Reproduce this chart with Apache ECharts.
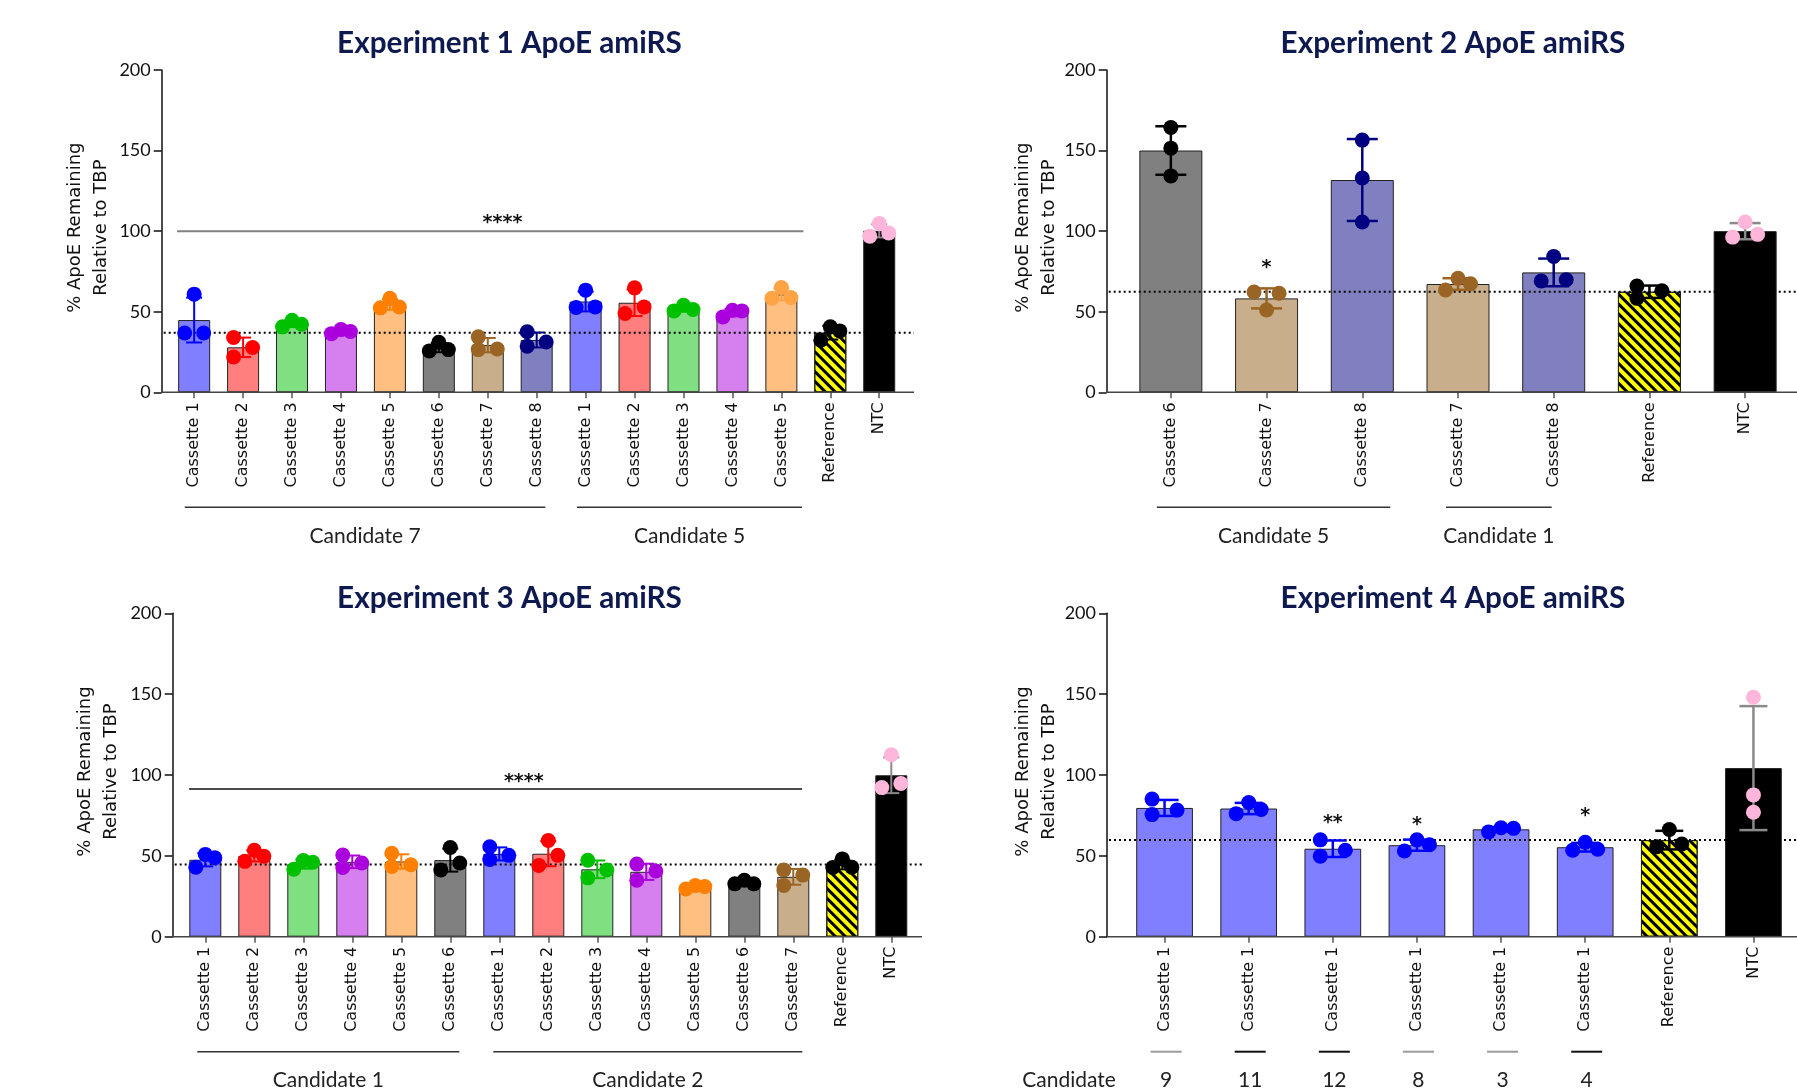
<!DOCTYPE html>
<html><head><meta charset="utf-8">
<script src="https://cdn.jsdelivr.net/npm/echarts@6/dist/echarts.min.js"></script>
<style>html,body{margin:0;padding:0;background:#fff}#c{width:1797px;height:1092px}</style>
</head><body><div id="c"></div>
<script>
// ================= DATA =================
const yTicks = [0, 50, 100, 150, 200];
const yAxisTitle = '% ApoE Remaining\nRelative to TBP';

const exp1Title = 'Experiment 1 ApoE amiRS';
const exp1Labels = ['Cassette 1','Cassette 2','Cassette 3','Cassette 4','Cassette 5','Cassette 6','Cassette 7','Cassette 8','Cassette 1','Cassette 2','Cassette 3','Cassette 4','Cassette 5','Reference','NTC'];
const exp1Points = [[36.8,60.9,36.8],[34.0,21.9,27.8],[40.6,44.7,42.2],[36.4,38.9,37.7],[52.4,58.4,52.9],[25.7,31.0,26.5],[34.4,26.5,26.9],[37.6,28.6,31.2],[52.6,63.4,53.0],[48.9,64.8,53.0],[50.5,54.0,51.4],[46.8,50.9,50.5],[58.4,65.0,58.8],[32.3,40.6,38.1],[96.9,104.8,98.9]];
const exp1Groups = [{label:'Candidate 7', from:0, to:7},{label:'Candidate 5', from:8, to:12}];
const exp1Sig = [{from:-0.35, to:12.45, value:100, label:'****', at:6.3, starValue:108.2}];
const exp1Stars = [];

const exp2Title = 'Experiment 2 ApoE amiRS';
const exp2Labels = ['Cassette 6','Cassette 7','Cassette 8','Cassette 7','Cassette 8','Reference','NTC'];
const exp2Points = [[164.3,151.5,134.3],[62.2,51.1,61.5],[156.5,133.0,105.7],[63.5,70.7,67.4],[69.1,84.3,69.8],[65.9,58.3,63.0],[96.3,105.7,98.0]];
const exp2Groups = [{label:'Candidate 5', from:0, to:2},{label:'Candidate 1', from:3, to:4}];
const exp2Sig = [];
const exp2Stars = [{at:1, value:80, label:'*'}];

const exp3Title = 'Experiment 3 ApoE amiRS';
const exp3Labels = ['Cassette 1','Cassette 2','Cassette 3','Cassette 4','Cassette 5','Cassette 6','Cassette 1','Cassette 2','Cassette 3','Cassette 4','Cassette 5','Cassette 6','Cassette 7','Reference','NTC'];
const exp3Points = [[43.0,50.9,48.8],[46.6,53.5,49.8],[41.7,47.1,46.0],[50.5,42.8,45.6],[51.6,43.4,44.5],[41.3,55.2,45.6],[55.6,47.7,50.3],[44.1,59.5,50.3],[47.3,36.4,41.3],[44.9,34.9,40.6],[29.5,31.7,31.0],[32.7,34.9,32.7],[41.3,31.7,38.1],[42.8,48.1,43.0],[92.2,112.5,94.8]];
const exp3Groups = [{label:'Candidate 1', from:0, to:5},{label:'Candidate 2', from:6, to:12}];
const exp3Sig = [{from:-0.33, to:12.18, value:91.3, label:'****', at:6.5, starValue:98.7}];
const exp3Stars = [];

const exp4Title = 'Experiment 4 ApoE amiRS';
const exp4Labels = ['Cassette 1','Cassette 1','Cassette 1','Cassette 1','Cassette 1','Cassette 1','Reference','NTC'];
const exp4Points = [[85.1,75.5,78.3],[76.1,83.0,78.7],[59.9,49.8,53.5],[53.0,59.9,56.9],[64.8,67.4,67.0],[53.5,58.4,54.1],[55.6,66.3,57.3],[148.1,87.7,77.0]];
const exp4Candidates = ['9','11','12','8','3','4'];
const exp4Stars = [{at:2, value:73.4, label:'**'},{at:3, value:72.3, label:'*'},{at:5, value:77.6, label:'*'}];

// ================= STYLE =================
const palette = {
  blue:{fill:'#7f7fff', pt:'#0000ff'}, red:{fill:'#ff7f7f', pt:'#ff0000'},
  green:{fill:'#80df80', pt:'#00c000'}, purple:{fill:'#d580ee', pt:'#aa00dd'},
  orange:{fill:'#ffbf80', pt:'#ff8000'}, orangeL:{fill:'#ffbf80', pt:'#ffa445'},
  grey:{fill:'#808080', pt:'#000000'}, tan:{fill:'#c8ae8a', pt:'#9a6424'},
  slate:{fill:'#8080c0', pt:'#000080'}, ref:{fill:'#ffff00', pt:'#000000', decal:true},
  ntc:{fill:'#000000', pt:'#ffb6da', err:'#8a8a8a'}
};
const exp1Colors = ['blue','red','green','purple','orange','grey','tan','slate','blue','red','green','purple','orangeL','ref','ntc'];
const exp2Colors = ['grey','tan','slate','tan','slate','ref','ntc'];
const exp3Colors = ['blue','red','green','purple','orange','grey','blue','red','green','purple','orange','grey','tan','ref','ntc'];
const exp4Colors = ['blue','blue','blue','blue','blue','blue','ref','ntc'];
const exp1Slots = ['LCR','LLR','LCR','LCR','LCR','LCR','LLR','LLR','LCR','LCR','LCR','LCR','LCR','LCR','LCR'];
const exp2Slots = ['CCC','LCR','CCC','LCR','LCR','LLR','LCR'];
const exp3Slots = ['LCR','LCR','LCR','LLR','LLR','LCR','LLR','LCR','LLR','LLR','LCR','LCR','LLR','LCR','LCR'];
const exp4Slots = ['LLR','LCR','LLR','LCR','LCR','LCR','LCR','CCC'];
const exp4CandLineColors = ['#9a9a9a','#111','#111','#9a9a9a','#9a9a9a','#111'];
// bracket overhang (px) left/right of the outer bar centres
const exp1GroupPads = [[9.4, 8.6], [8.6, 20.6]];
const exp2GroupPads = [[14, 28], [12, -2]];
const exp3GroupPads = [[8, 9], [6, 9]];

const layouts = [
  {left:169.7, top:70, width:734, height:322.3, yOffset:8, xEnd:914, barWidth:32, jitter:9.5, nx:88, tx:509.5, ty:43.5, cap:16, errW:2, sigColor:'#808080', sigW:2},
  {left:1123, top:70, width:670, height:322.3, yOffset:16.3, xEnd:1797, barWidth:63, jitter:12.5, nx:1036.5, tx:1453, ty:43.5, cap:31, errW:2.5},
  {left:180.8, top:613.3, width:735, height:323.4, yOffset:8.1, xEnd:922, barWidth:32, jitter:9.5, nx:98, tx:509.5, ty:598.5, cap:16, errW:2, sigColor:'#111', sigW:1.5},
  {left:1122.5, top:613.3, width:673, height:323.4, yOffset:15.5, xEnd:1797, barWidth:56.7, jitter:12.5, nx:1036.5, tx:1453, ty:598.5, cap:28, errW:2.5}
];

const experiments = [
  {title:exp1Title, labels:exp1Labels, points:exp1Points, colors:exp1Colors, slots:exp1Slots, groups:exp1Groups, pads:exp1GroupPads, sig:exp1Sig, stars:exp1Stars},
  {title:exp2Title, labels:exp2Labels, points:exp2Points, colors:exp2Colors, slots:exp2Slots, groups:exp2Groups, pads:exp2GroupPads, sig:exp2Sig, stars:exp2Stars},
  {title:exp3Title, labels:exp3Labels, points:exp3Points, colors:exp3Colors, slots:exp3Slots, groups:exp3Groups, pads:exp3GroupPads, sig:exp3Sig, stars:exp3Stars},
  {title:exp4Title, labels:exp4Labels, points:exp4Points, colors:exp4Colors, slots:exp4Slots, groups:[], pads:[], sig:[], stars:exp4Stars, candidates:exp4Candidates}
];

const mean = a => a.reduce((s, v) => s + v, 0) / a.length;
const sdev = a => { const m = mean(a); return Math.sqrt(a.reduce((s, v) => s + (v - m) * (v - m), 0) / (a.length - 1)); };

const grids = [], xAxes = [], yAxes = [], series = [], graphics = [];
const starFont = 'bold 19px "DejaVu Sans"';
const groupFont = '21px Lato';

experiments.forEach((E, k) => {
  const L = layouts[k];
  const means = E.points.map(mean);
  const sds = E.points.map(sdev);
  const refIdx = E.labels.indexOf('Reference');
  const refMean = means[refIdx];

  grids.push({left:L.left, top:L.top, width:L.width, height:L.height, containLabel:false, outerBoundsMode:'none'});
  xAxes.push({
    type:'category', gridIndex:k, data:E.labels,
    axisLine:{show:false},
    axisTick:{show:true, alignWithLabel:true, length:6, lineStyle:{color:'#555', width:1.5}},
    axisLabel:{rotate:90, interval:0, fontFamily:'DejaVu Sans', fontSize:16, color:'#111', margin:10, hideOverlap:false},
    splitLine:{show:false}
  });
  yAxes.push({
    type:'value', gridIndex:k, min:yTicks[0], max:yTicks[yTicks.length-1], interval:yTicks[1]-yTicks[0],
    offset:L.yOffset,
    axisLine:{show:true, lineStyle:{color:'#111', width:1.5}},
    axisTick:{show:true, length:8, lineStyle:{color:'#111', width:1.5}},
    axisLabel:{fontFamily:'Lato', fontSize:18, color:'#111', margin:11},
    splitLine:{show:false}
  });

  // bars
  series.push({
    type:'bar', xAxisIndex:k, yAxisIndex:k, barWidth:L.barWidth, z:2, silent:true,
    data: means.map((m, i) => {
      const p = palette[E.colors[i]];
      const st = {color:p.fill, borderColor:'#222', borderWidth:1};
      if (p.decal) st.decal = {symbol:'rect', symbolSize:1, color:'#000', dashArrayX:[1,0], dashArrayY:[3,4], rotation:Math.PI/4};
      return {value:m, itemStyle:st};
    })
  });

  // decorations: baseline, reference dotted line, axis title, group brackets, significance
  series.push({
    type:'custom', xAxisIndex:k, yAxisIndex:k, z:3, clip:false, silent:true,
    data:[[0, 0]], encode:{x:0, y:1},
    renderItem:(params, api) => {
      const ch = [];
      const y0 = api.coord([0, 0])[1];
      const axisX = L.left - L.yOffset;
      ch.push({type:'line', shape:{x1:axisX, y1:y0, x2:L.xEnd, y2:y0}, style:{stroke:'#444', lineWidth:1.5}});
      const yr = api.coord([0, refMean])[1];
      ch.push({type:'line', shape:{x1:axisX + 2, y1:yr, x2:L.xEnd, y2:yr}, style:{stroke:'#000', lineWidth:2, lineDash:[2, 3]}});
      const ymid = api.coord([0, (yTicks[0] + yTicks[yTicks.length-1]) / 2])[1] - 3.5;
      ch.push({type:'text', x:L.nx, y:ymid, rotation:Math.PI/2, style:{text:yAxisTitle, x:0, y:0, align:'center', verticalAlign:'middle', font:'18px "DejaVu Sans"', lineHeight:26, fill:'#111'}});
      E.groups.forEach((g, gi) => {
        const pd = E.pads[gi];
        const x1 = api.coord([g.from, 0])[0] - pd[0], x2 = api.coord([g.to, 0])[0] + pd[1];
        ch.push({type:'line', shape:{x1:x1, y1:y0 + 115, x2:x2, y2:y0 + 115}, style:{stroke:'#333', lineWidth:1.5}});
        ch.push({type:'text', style:{text:g.label, x:(x1 + x2) / 2, y:y0 + 144, align:'center', verticalAlign:'middle', font:groupFont, fill:'#222'}});
      });
      if (E.candidates) {
        E.candidates.forEach((c, i) => {
          const xc = api.coord([i, 0])[0] + 1.5;
          ch.push({type:'line', shape:{x1:xc - 15.5, y1:y0 + 115, x2:xc + 15.5, y2:y0 + 115}, style:{stroke:exp4CandLineColors[i], lineWidth:2}});
          ch.push({type:'text', style:{text:c, x:xc, y:y0 + 144, align:'center', verticalAlign:'middle', font:groupFont, fill:'#222'}});
        });
        ch.push({type:'text', style:{text:'Candidate', x:axisX - 38, y:y0 + 144, align:'center', verticalAlign:'middle', font:groupFont, fill:'#222'}});
      }
      E.sig.forEach(s => {
        const bw = api.size([1, 0])[0];
        const c0 = api.coord([0, 0])[0];
        const ys = api.coord([0, s.value])[1];
        ch.push({type:'line', shape:{x1:c0 + s.from * bw, y1:ys, x2:c0 + s.to * bw, y2:ys}, style:{stroke:L.sigColor, lineWidth:L.sigW}});
        ch.push({type:'text', style:{text:s.label, x:c0 + s.at * bw, y:api.coord([0, s.starValue])[1] + 5, align:'center', verticalAlign:'middle', font:starFont, fill:'#111'}});
      });
      E.stars.forEach(s => {
        const c = api.coord([s.at, s.value]);
        ch.push({type:'text', style:{text:s.label, x:c[0], y:c[1] + 5, align:'center', verticalAlign:'middle', font:starFont, fill:'#111'}});
      });
      return {type:'group', children:ch};
    }
  });

  // error bars (mean ± SD)
  series.push({
    type:'custom', xAxisIndex:k, yAxisIndex:k, z:4, clip:false, silent:true,
    data: means.map((m, i) => [i, m, sds[i]]), encode:{x:0, y:1},
    renderItem:(params, api) => {
      const i = api.value(0), m = api.value(1), s = api.value(2);
      const p = palette[E.colors[i]];
      const col = p.err || p.pt;
      const xc = api.coord([i, m])[0];
      const yt = api.coord([i, m + s])[1], yb = api.coord([i, m - s])[1];
      const hw = L.cap / 2;
      const st = {stroke:col, lineWidth:L.errW};
      return {type:'group', children:[
        {type:'line', shape:{x1:xc, y1:yt, x2:xc, y2:yb}, style:st},
        {type:'line', shape:{x1:xc - hw, y1:yt, x2:xc + hw, y2:yt}, style:st},
        {type:'line', shape:{x1:xc - hw, y1:yb, x2:xc + hw, y2:yb}, style:st}
      ]};
    }
  });

  // individual points
  const pts = [];
  E.points.forEach((arr, i) => {
    arr.forEach((v, j) => {
      const slot = E.slots[i][j];
      const dx = slot === 'L' ? -L.jitter : slot === 'R' ? L.jitter : 0;
      pts.push({value:[i, v], symbolOffset:[dx, 0], itemStyle:{color:palette[E.colors[i]].pt, opacity:1}});
    });
  });
  series.push({type:'scatter', xAxisIndex:k, yAxisIndex:k, z:5, symbol:'circle', symbolSize:15, silent:true, data:pts});

  graphics.push({type:'text', x:L.tx, y:L.ty, style:{text:E.title, align:'center', verticalAlign:'middle', font:'bold 29.7px Lato', fill:'#0e1a4f'}});
});

const chart = echarts.init(document.getElementById('c'), null, {renderer:'canvas'});
chart.setOption({
  animation:false,
  backgroundColor:'#ffffff',
  textStyle:{fontFamily:'Lato'},
  grid:grids, xAxis:xAxes, yAxis:yAxes, series:series, graphic:graphics
});
</script>
</body></html>
